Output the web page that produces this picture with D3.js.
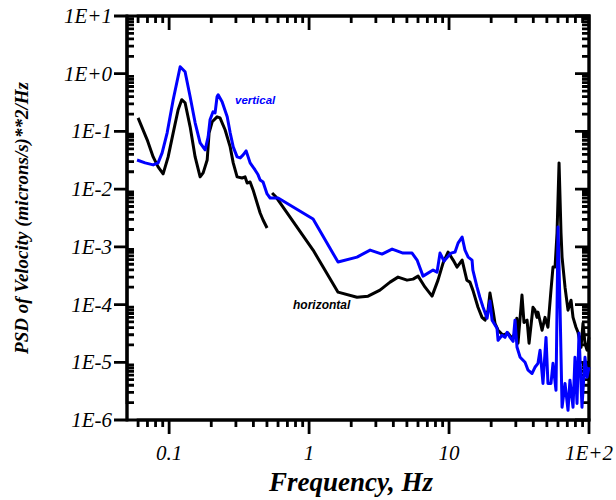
<!DOCTYPE html>
<html><head><meta charset="utf-8">
<script src="https://cdn.jsdelivr.net/npm/d3@7"></script>
<style>body{margin:0;background:#fff}</style>
</head><body><svg id="c" width="616" height="500"></svg>
<script>
// vertical component (blue)
const vertFreq = [0.059,0.0674,0.0769,0.0834,0.0891,0.0968,0.1069,0.1199,0.130,0.1413,0.1534,0.1665,0.1808,0.190,0.196,0.206,0.213,0.220,0.224,0.239,0.260,0.273,0.287,0.306,0.322,0.338,0.355,0.379,0.411,0.432,0.447,0.469,0.501,0.527,0.601,1.068,1.61,2.20,2.73,3.32,3.92,4.69,5.44,5.91,6.52,7.69,8.21,8.62,9.21,10.33,11.04,11.6,12.4,13.0,13.7,14.6,14.8,15.85,16.6,17.5,18.7,19.6,20.3,22.0,22.4,23.9,25.1,26.0,27.3,28.7,29.6,30.6,32.2,34.9,36.7,39.2,41.1,43.2,44.7,46.9,49.3,50.9,53.5,55.3,58.1,60.1,62.1,64.2,67.4,70.8,73.1,76.9,79.4,82.1,84.8,89.1,93.6,96.8,100];
const vertPsd = [0.032,0.0285,0.0263,0.0285,0.0425,0.0946,0.354,1.32,1.08,0.399,0.141,0.0634,0.048,0.0806,0.159,0.219,0.210,0.399,0.432,0.327,0.179,0.0946,0.054,0.0362,0.0348,0.0392,0.046,0.0285,0.0215,0.0177,0.0144,0.0133,0.00826,0.00703,0.00703,0.00304,0.000545,0.000665,0.00088,0.00075,0.000916,0.00078,0.00078,0.00059,0.000311,0.000396,0.000365,0.00078,0.000567,0.00078,0.000813,0.00116,0.00148,0.00088,0.000665,0.00059,0.000396,0.0002,0.000134,9.0e-5,5.8e-5,1.15e-4,5.36e-5,3.9e-5,2.4e-5,2.94e-5,2.7e-5,3.3e-5,2.7e-5,2.3e-5,5.36e-5,1.82e-5,1.22e-5,1.0e-5,7.3e-6,6.4e-6,8.2e-6,9.6e-6,1.62e-5,4.3e-6,2.7e-5,4.3e-6,4.3e-6,9.6e-6,3.27e-6,2.2e-3,9.0e-5,1.66e-6,4.3e-6,1.47e-6,4.9e-6,1.66e-6,1.22e-5,1.94e-6,3.2e-5,1.66e-6,1.22e-5,5.5e-6,8.2e-6];

// horizontal component (black), low-frequency segment
const horizFreqLow = [0.060,0.0697,0.0769,0.0834,0.0906,0.0984,0.1069,0.116,0.123,0.130,0.1413,0.1534,0.1665,0.175,0.187,0.193,0.203,0.220,0.231,0.251,0.273,0.287,0.306,0.332,0.349,0.361,0.379,0.398,0.425,0.447,0.469,0.501];
const horizPsdLow = [0.172,0.0715,0.0362,0.0243,0.0184,0.0362,0.0946,0.237,0.354,0.314,0.120,0.0362,0.0163,0.0191,0.032,0.0946,0.147,0.179,0.172,0.107,0.054,0.0285,0.0163,0.0156,0.0163,0.0128,0.0133,0.0097,0.00576,0.00386,0.00292,0.00212];

// horizontal component (black), high-frequency segment
const horizFreqHigh = [0.544,0.581,1.068,1.61,2.20,2.64,3.21,3.79,4.32,5.01,5.53,6.01,6.74,7.56,8.34,9.06,9.84,10.7,11.4,12.4,13.4,14.1,14.8,16.1,17.2,18.1,19.0,19.6,20.6,21.3,22.4,24.3,26.4,28.2,29.6,30.5,31.1,33.2,34.3,36.1,37.3,39.8,41.1,42.5,43.2,46.2,48.5,50.9,53.5,55.3,57.2,59.1,61.1,63.1,64.2,67.4,70.8,74.4,76.9,80.7,83.5,87.7,90.6,93.6,96.8,100];
const horizPsdHigh = [0.0086,0.0073,0.00088,0.000164,0.000134,0.00014,0.000178,0.000245,0.000299,0.000265,0.000276,0.000311,0.0002,0.00014,0.000265,0.000524,0.000813,0.00059,0.000446,0.00059,0.000265,0.000245,0.000178,9.0e-5,6.0e-5,5.36e-5,8.0e-5,1.58e-4,8.0e-5,4.75e-5,3.6e-5,2.94e-5,3.2e-5,2.6e-5,3.2e-5,5.8e-5,2.14e-5,1.46e-4,4.9e-5,5.36e-5,2.14e-5,9.0e-5,8.0e-5,6.0e-5,7.4e-5,3.6e-5,6.0e-5,4.05e-5,1.78e-4,4.46e-4,4.46e-4,1.74e-3,0.0285,1.74e-3,6.65e-4,2.0e-4,8.0e-5,1.19e-4,6.0e-5,4.05e-5,3.3e-5,1.82e-5,4.75e-5,2.14e-5,1.62e-5,2.7e-5];

const xTickValues = [0.1, 1, 10, 100];
const xTickLabels = ["0.1", "1", "10", "1E+2"];
const yTickValues = [1e-6, 1e-5, 1e-4, 1e-3, 1e-2, 1e-1, 1, 10];
const yTickLabels = ["1E-6", "1E-5", "1E-4", "1E-3", "1E-2", "1E-1", "1E+0", "1E+1"];
const seriesLabels = ["vertical", "horizontal"];

const L = 127, R = 589, T = 16, B = 420;
const svg = d3.select("#c");
const xs = d3.scaleLog().domain([0.05, 100]).range([L, R]);
const ys = d3.scaleLog().domain([1e-6, 10]).range([B, T]);

const xMinor = [];
for (let e = -2; e <= 1; e++) for (let m = 2; m <= 9; m++) { const v = m * Math.pow(10, e); if (v > 0.05 && v < 100) xMinor.push(v); }
const yMinor = [];
for (let e = -6; e <= 0; e++) for (let m = 2; m <= 9; m++) yMinor.push(m * Math.pow(10, e));

// frame
svg.append("rect").attr("x", L).attr("y", T).attr("width", R - L).attr("height", B - T)
  .attr("fill", "none").attr("stroke", "#000").attr("stroke-width", 3);

// tick marks: each axis is one continuous comb polyline running along the frame edge
const xTicksAll = xMinor.map(v => [v, 7]).concat(xTickValues.map(v => [v, 14])).sort((a, b) => a[0] - b[0]);
const yMinorIn = yMinor.map(v => [v, 7]);
function comb(ticks, pos, base, dir, along) {
  const pts = [];
  ticks.forEach(([v, len]) => {
    const p = pos(v);
    if (along === "x") pts.push([p, base], [p, base + dir * len], [p, base]);
    else pts.push([base, p], [base + dir * len, p], [base, p]);
  });
  svg.append("path").attr("d", d3.line()(pts)).attr("fill", "none").attr("stroke", "#000")
    .attr("stroke-width", 2.8).attr("stroke-linejoin", "miter");
}
comb(xTicksAll, xs, B, 1, "x");    // bottom, outward
comb(xTicksAll, xs, T, 1, "x");    // top, inward
comb(yMinorIn.slice().sort((a, b) => a[0] - b[0]), ys, L, 1, "y");  // left minor, inward
comb(yTickValues.map(v => [v, 13]), ys, L, -1, "y");                 // left major, outward
comb(yMinorIn.concat(yTickValues.map(v => [v, 14])).sort((a, b) => a[0] - b[0]), ys, R, -1, "y"); // right, inward

// data lines
const lineGen = d3.line().x(d => xs(d[0])).y(d => ys(d[1]));
const zip = (a, b) => a.map((v, i) => [v, b[i]]);
svg.append("path").datum(zip(horizFreqLow, horizPsdLow)).attr("d", lineGen)
  .attr("fill", "none").attr("stroke", "#000").attr("stroke-width", 3).attr("stroke-linejoin", "round");
svg.append("path").datum(zip(horizFreqHigh, horizPsdHigh)).attr("d", lineGen)
  .attr("fill", "none").attr("stroke", "#000").attr("stroke-width", 3).attr("stroke-linejoin", "round");
svg.append("path").datum(zip(vertFreq, vertPsd)).attr("d", lineGen)
  .attr("fill", "none").attr("stroke", "#0000ff").attr("stroke-width", 3).attr("stroke-linejoin", "round");

// tick labels
const serif = "'Liberation Serif', 'Times New Roman', serif";
xTickValues.forEach((v, i) => svg.append("text").attr("x", xs(v)).attr("y", 460).attr("text-anchor", "middle")
  .attr("font-family", serif).attr("font-style", "italic").attr("font-size", 21).text(xTickLabels[i]));
yTickValues.forEach((v, i) => svg.append("text").attr("x", L - 15).attr("y", ys(v) + 7).attr("text-anchor", "end")
  .attr("font-family", serif).attr("font-style", "italic").attr("font-size", 21).text(yTickLabels[i]));

// axis titles
svg.append("text").attr("x", 351).attr("y", 491).attr("text-anchor", "middle")
  .attr("font-family", serif).attr("font-style", "italic").attr("font-weight", "bold").attr("font-size", 27)
  .text("Frequency, Hz");
svg.append("text").attr("transform", `translate(28,${(T + B) / 2}) rotate(-90)`).attr("text-anchor", "middle")
  .attr("font-family", serif).attr("font-style", "italic").attr("font-weight", "bold").attr("font-size", 19)
  .text("PSD of Velocity (microns/s)**2/Hz");

// series annotations
const sans = "'Liberation Sans', Arial, sans-serif";
svg.append("text").attr("x", 235).attr("y", 104).attr("font-family", sans).attr("font-style", "italic")
  .attr("font-weight", "bold").attr("font-size", 11.5).attr("fill", "#0000ff").text(seriesLabels[0]);
svg.append("text").attr("x", 293).attr("y", 309).attr("font-family", sans).attr("font-style", "italic")
  .attr("font-weight", "bold").attr("font-size", 12).attr("fill", "#000").text(seriesLabels[1]);
</script>
</body></html>
